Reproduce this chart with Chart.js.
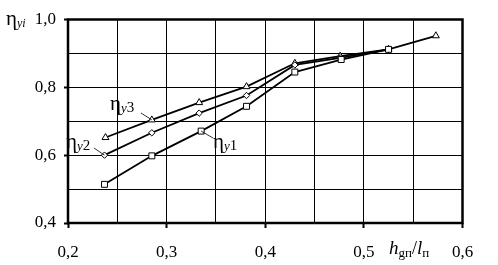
<!DOCTYPE html>
<html>
<head>
<meta charset="utf-8">
<script src="https://cdn.jsdelivr.net/npm/chart.js@4/dist/chart.umd.min.js"></script>
<style>
  html, body { margin: 0; padding: 0; background: #fff; }
  canvas { display: block; }
</style>
</head>
<body>
<canvas id="c" width="498" height="265"></canvas>
<script>
// Data
const xRatio1 = [0.237, 0.285, 0.335, 0.381, 0.430, 0.477, 0.525];
const etaY1   = [0.514, 0.598, 0.671, 0.744, 0.845, 0.882, 0.912];
const xRatio2 = [0.237, 0.285, 0.333, 0.381, 0.430, 0.476, 0.525];
const etaY2   = [0.600, 0.666, 0.724, 0.776, 0.866, 0.887, 0.912];
const xRatio3 = [0.238, 0.285, 0.333, 0.381, 0.430, 0.476, 0.525, 0.573];
const etaY3   = [0.652, 0.704, 0.755, 0.802, 0.871, 0.892, 0.912, 0.952];
const xTickLabels = [0.2, 0.3, 0.4, 0.5, 0.6];
const yTickLabels = [0.4, 0.6, 0.8, 1.0];

const toPts = (xs, ys) => xs.map((x, i) => ({ x: x, y: ys[i] }));
const fmt = v => v.toFixed(1).replace('.', ',');
const isLabeled = (arr, v) => arr.some(t => Math.abs(t - v) < 1e-6);

const SERIF = '"Liberation Serif", "Times New Roman", serif';

function drawSub(ctx, x, y, parts) {
  let cx = x;
  parts.forEach(p => {
    ctx.font = (p.italic ? 'italic ' : '') + p.size + 'px ' + SERIF;
    ctx.fillText(p.t, cx, y + (p.dy || 0));
    cx += ctx.measureText(p.t).width + (p.gap || 0);
  });
}

const decor = {
  id: 'decor',
  beforeDatasetsDraw(chart) {
    const { ctx, chartArea: a } = chart;
    ctx.save();
    ctx.strokeStyle = '#000';
    ctx.lineWidth = 2.5;
    ctx.strokeRect(a.left, a.top, a.right - a.left, a.bottom - a.top);
    ctx.restore();
  },
  afterDatasetsDraw(chart) {
    const { ctx } = chart;
    const xs = chart.scales.x, ys = chart.scales.y;
    ctx.save();
    ctx.fillStyle = '#000';
    ctx.strokeStyle = '#000';
    ctx.textBaseline = 'alphabetic';
    ctx.lineWidth = 0.8;
    const lead = (x1, y1, px, py) => {
      ctx.beginPath();
      ctx.moveTo(x1, y1);
      ctx.lineTo(xs.getPixelForValue(px), ys.getPixelForValue(py));
      ctx.stroke();
    };
    lead(141, 113, xRatio3[1], etaY3[1]);
    lead(94, 148, xRatio2[0], etaY2[0]);
    lead(213, 138, xRatio1[2], etaY1[2]);
    const eta = (x, y, sub) => drawSub(ctx, x, y, [
      { t: 'η', size: 21 },
      { t: 'y', size: 13, italic: true, dy: 2 },
      { t: sub, size: 15, dy: 2 }
    ]);
    eta(110, 110, '3');
    eta(66, 148, '2');
    eta(213, 148, '1');
    drawSub(ctx, 6, 25, [
      { t: 'η', size: 21 },
      { t: 'yi', size: 12, italic: true, dy: 2 }
    ]);
    drawSub(ctx, 389, 254, [
      { t: 'h', size: 19, italic: true },
      { t: 'gп', size: 13, dy: 3 },
      { t: '/', size: 18 },
      { t: 'l', size: 19, italic: true },
      { t: 'п', size: 13, dy: 3 }
    ]);
    ctx.restore();
  }
};

const common = {
  borderColor: '#000',
  backgroundColor: '#fff',
  pointBorderColor: '#000',
  pointBackgroundColor: '#fff',
  borderWidth: 1.8,
  pointBorderWidth: 1,
  showLine: true,
  tension: 0
};

new Chart(document.getElementById('c'), {
  type: 'scatter',
  data: {
    datasets: [
      Object.assign({ label: 'ηy1', data: toPts(xRatio1, etaY1), pointStyle: 'rect', pointRadius: 4.2 }, common),
      Object.assign({ label: 'ηy2', data: toPts(xRatio2, etaY2), pointStyle: 'rectRot', pointRadius: 3.2 }, common),
      Object.assign({ label: 'ηy3', data: toPts(xRatio3, etaY3), pointStyle: 'triangle', pointRadius: 4 }, common)
    ]
  },
  options: {
    responsive: false,
    animation: false,
    devicePixelRatio: 1,
    layout: { padding: { left: 0, top: 19.5, right: 35.5, bottom: 0 } },
    plugins: { legend: { display: false }, tooltip: { enabled: false } },
    scales: {
      x: {
        type: 'linear',
        min: 0.2, max: 0.6,
        afterFit: s => { s.height = 265 - 223; },
        border: { display: false },
        grid: {
          color: '#000',
          lineWidth: 1,
          drawTicks: true,
          tickLength: 5,
          tickColor: c => (c.tick && isLabeled(xTickLabels, c.tick.value)) ? '#000' : 'rgba(0,0,0,0)',
          tickWidth: 2
        },
        ticks: {
          stepSize: 0.05,
          color: '#000',
          padding: 14,
          maxRotation: 0,
          autoSkip: false,
          font: { family: SERIF, size: 17 },
          callback: v => isLabeled(xTickLabels, v) ? fmt(v) : ''
        }
      },
      y: {
        type: 'linear',
        min: 0.4, max: 1.0,
        afterFit: s => { s.width = 68; },
        border: { display: false },
        grid: {
          color: '#000',
          lineWidth: 1,
          drawTicks: true,
          tickLength: 4,
          tickColor: c => (c.tick && isLabeled(yTickLabels, c.tick.value)) ? '#000' : 'rgba(0,0,0,0)',
          tickWidth: 2
        },
        ticks: {
          stepSize: 0.1,
          color: '#000',
          padding: 8,
          autoSkip: false,
          font: { family: SERIF, size: 17 },
          callback: v => isLabeled(yTickLabels, v) ? fmt(v) : ''
        }
      }
    }
  },
  plugins: [decor]
});
</script>
</body>
</html>
